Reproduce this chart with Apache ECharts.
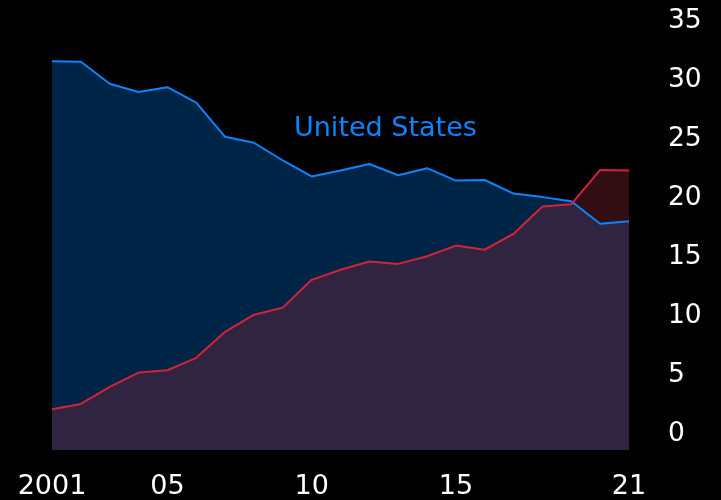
<!DOCTYPE html>
<html>
<head>
<meta charset="utf-8">
<script src="https://cdn.jsdelivr.net/npm/echarts@6/dist/echarts.min.js"></script>
<style>
html,body{margin:0;padding:0;background:#000;}
#c{width:721px;height:500px;}
</style>
</head>
<body>
<div id="c"></div>
<script>
const years = ['2001','2002','2003','2004','2005','2006','2007','2008','2009','2010','2011','2012','2013','2014','2015','2016','2017','2018','2019','2020','2021'];
const xTickLabels = {'2001':'2001','2005':'05','2010':'10','2015':'15','2021':'21'};
const unitedStates = [31.3,31.25,29.4,28.7,29.1,27.8,24.9,24.4,22.9,21.55,22.05,22.6,21.65,22.25,21.2,21.25,20.1,19.8,19.45,17.55,17.75];
const china = [1.85,2.3,3.75,4.95,5.15,6.2,8.4,9.85,10.45,12.8,13.65,14.35,14.15,14.8,15.7,15.35,16.7,19.0,19.2,22.1,22.05];
const yTickValues = [0,5,10,15,20,25,30,35];

const chart = echarts.init(document.getElementById('c'));
const font = '"DejaVu Sans"';
chart.setOption({
  backgroundColor: '#000',
  animation: false,
  grid: {left: 52, right: 92, top: 17.5, bottom: 49.5},
  xAxis: {
    type: 'category',
    data: years,
    boundaryGap: false,
    axisLine: {show: false},
    axisTick: {show: false},
    splitLine: {show: false},
    axisLabel: {
      color: '#fff',
      fontFamily: font,
      fontSize: 27,
      margin: 23,
      interval: function (i, v) { return xTickLabels[v] !== undefined; },
      formatter: function (v) { return xTickLabels[v] || ''; }
    }
  },
  yAxis: {
    type: 'value',
    position: 'right',
    min: -1.6,
    max: 35,
    axisLine: {show: false},
    axisTick: {show: false},
    splitLine: {show: false},
    axisLabel: {
      color: '#fff',
      fontFamily: font,
      fontSize: 26.5,
      margin: 39,
      customValues: yTickValues,
      formatter: function (v) { return '{a|' + v + '}'; },
      rich: {a: {color: '#fff', fontFamily: font, fontSize: 26.5, padding: [7, 0, 0, 0]}}
    }
  },
  series: [
    {
      name: 'United States',
      type: 'line',
      data: unitedStates,
      symbol: 'none',
      lineStyle: {color: '#0a84ff', width: 2},
      areaStyle: {color: '#002446', opacity: 1, origin: 'start'}
    },
    {
      name: 'China',
      type: 'line',
      data: china,
      symbol: 'none',
      lineStyle: {color: '#d3233a', width: 2},
      areaStyle: {color: 'rgba(140,37,57,0.35)', opacity: 1, origin: 'start'}
    }
  ],
  graphic: [
    {type: 'text', left: 294, top: 115.5, style: {text: 'United States', fill: '#0a84ff', font: '27px "DejaVu Sans"'}},
    {type: 'text', left: 450, top: 335, style: {text: 'China', fill: '#d3233a', font: '27px "DejaVu Sans"'}}
  ]
});
</script>
</body>
</html>
